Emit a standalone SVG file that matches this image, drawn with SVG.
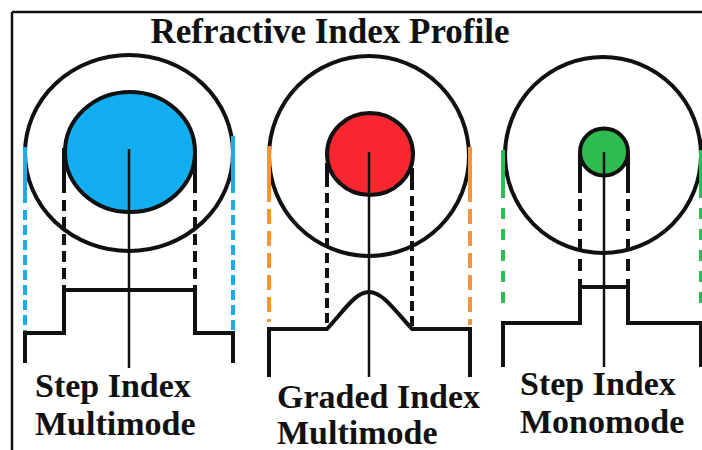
<svg xmlns="http://www.w3.org/2000/svg" width="702" height="450" viewBox="0 0 702 450">
<style>
.ol{fill:none;stroke:#111;stroke-width:4}
.th{fill:none;stroke:#111;stroke-width:4;stroke-linejoin:miter}
.ax{stroke:#111;stroke-width:2.5}
.bd{stroke:#111;stroke-width:4;stroke-dasharray:11 6}
.txt{font-family:"Liberation Serif","Times New Roman",serif;font-weight:bold;font-size:34px;fill:#111}
</style>
<rect width="702" height="450" fill="#fff"/>
<g id="frame">
<line x1="12" y1="12" x2="702" y2="12" stroke="#111" stroke-width="2.5"/>
<line x1="12" y1="12" x2="12" y2="450" stroke="#111" stroke-width="2.5"/>
</g>
<text id="title" class="txt" x="330" y="43" text-anchor="middle" style="font-size:35px">Refractive Index Profile</text>

<g id="step-multimode">
<ellipse class="ol" cx="129" cy="153" rx="104" ry="98"/>
<ellipse cx="130" cy="152" rx="65" ry="60" fill="#12aeef" stroke="#111" stroke-width="4"/>
<text class="txt" x="35" y="397">Step Index</text>
<text class="txt" x="35" y="435">Multimode</text>
</g>

<g id="graded-multimode">
<circle class="ol" cx="369" cy="156" r="100"/>
<ellipse cx="370" cy="154" rx="43" ry="41" fill="#f7262f" stroke="#111" stroke-width="4"/>
<text class="txt" x="277" y="408">Graded Index</text>
<text class="txt" x="277" y="444">Multimode</text>
</g>

<g id="step-monomode">
<circle class="ol" cx="603" cy="155" r="98"/>
<ellipse cx="604" cy="152" rx="24" ry="23.5" fill="#2dbb52" stroke="#111" stroke-width="4"/>
<text class="txt" x="520" y="395">Step Index</text>
<text class="txt" x="520" y="433">Monomode</text>
</g>

<g id="connectors">
<line x1="25" y1="147" x2="25" y2="203" stroke="#12aeef" stroke-width="4"/>
<line x1="25" y1="210" x2="25" y2="333" stroke="#12aeef" stroke-width="4" stroke-dasharray="10 5"/>
<line x1="233" y1="136" x2="233" y2="193" stroke="#12aeef" stroke-width="4"/>
<line x1="233" y1="200" x2="233" y2="333" stroke="#12aeef" stroke-width="4" stroke-dasharray="10 5"/>
<line x1="64" y1="148" x2="64" y2="193" stroke="#111" stroke-width="4"/>
<line class="bd" x1="64" y1="200" x2="64" y2="290"/>
<line x1="195" y1="150" x2="195" y2="193" stroke="#111" stroke-width="4"/>
<line class="bd" x1="195" y1="200" x2="195" y2="290"/>
<path class="th" d="M25,363 V333 H64 V290 H195 V333 H233 V363"/>
<line class="ax" x1="129" y1="149" x2="129" y2="368"/>

<line x1="269" y1="146" x2="269" y2="202" stroke="#f7943a" stroke-width="4"/>
<line x1="269" y1="209" x2="269" y2="322" stroke="#f7943a" stroke-width="4" stroke-dasharray="15 7"/>
<line x1="470" y1="147" x2="470" y2="202" stroke="#f7943a" stroke-width="4"/>
<line x1="470" y1="209" x2="470" y2="325" stroke="#f7943a" stroke-width="4" stroke-dasharray="15 7"/>
<line x1="327" y1="163" x2="327" y2="187" stroke="#111" stroke-width="4"/>
<line x1="327" y1="193" x2="327" y2="329" stroke="#111" stroke-width="4" stroke-dasharray="10 5"/>
<line x1="412" y1="168" x2="412" y2="190" stroke="#111" stroke-width="4"/>
<line x1="412" y1="196" x2="412" y2="329" stroke="#111" stroke-width="4" stroke-dasharray="10 5"/>
<path class="th" d="M269,377 V329 H327 C346,308 356,292 369,292 C382,292 393,308 412,329 H470 V377"/>
<line class="ax" x1="369" y1="152" x2="369" y2="377"/>

<line x1="503" y1="150" x2="503" y2="198" stroke="#2dbb52" stroke-width="4"/>
<line x1="503" y1="208" x2="503" y2="313" stroke="#2dbb52" stroke-width="4" stroke-dasharray="11 10"/>
<line x1="701" y1="150" x2="701" y2="198" stroke="#2dbb52" stroke-width="4"/>
<line x1="701" y1="208" x2="701" y2="313" stroke="#2dbb52" stroke-width="4" stroke-dasharray="11 10"/>
<line x1="580" y1="153" x2="580" y2="193" stroke="#111" stroke-width="4"/>
<line x1="580" y1="199" x2="580" y2="287" stroke="#111" stroke-width="4" stroke-dasharray="12 8"/>
<line x1="628" y1="153" x2="628" y2="193" stroke="#111" stroke-width="4"/>
<line x1="628" y1="199" x2="628" y2="287" stroke="#111" stroke-width="4" stroke-dasharray="12 8"/>
<path class="th" d="M503,367 V323 H580 V287 H628 V323 H701 V367"/>
<line class="ax" x1="604" y1="152" x2="604" y2="367"/>
</g>
</svg>
